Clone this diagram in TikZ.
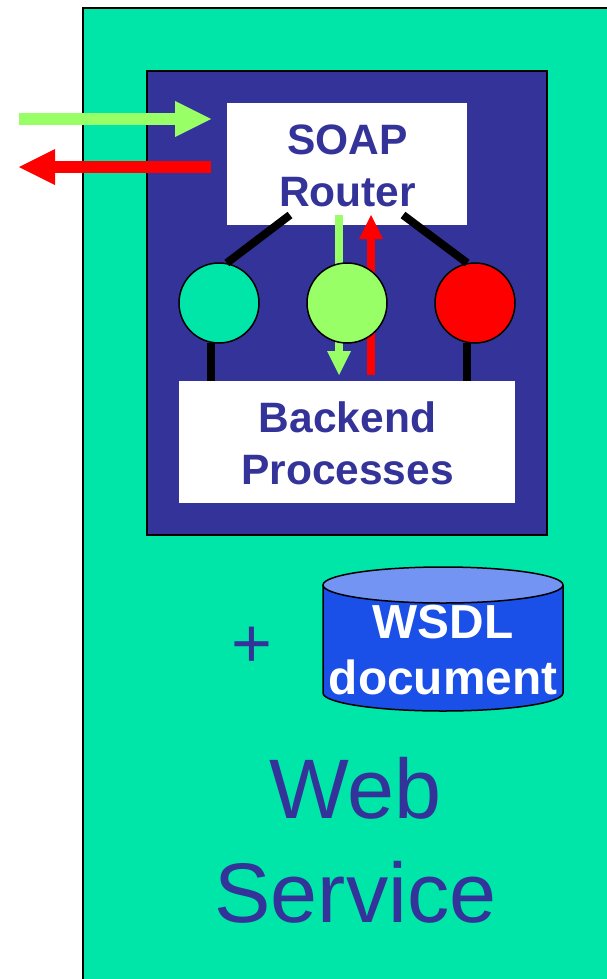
\documentclass[tikz,border=0pt]{standalone}
\usepackage{fontspec}
\setmainfont{Liberation Sans}
\usetikzlibrary{arrows.meta}
\definecolor{wsgreen}{HTML}{00E6A8}
\definecolor{wsnavy}{HTML}{333399}
\definecolor{wslime}{HTML}{99FF66}
\definecolor{wsblue}{HTML}{1A4FE8}
\definecolor{wssky}{HTML}{7394F2}
\tikzset{
	whitebox/.style={fill=white,text=wsnavy,inner sep=0pt,align=center,font=\fontsize{42.5}{52}\selectfont\bfseries},
	port/.style={circle,draw=black,line width=1.5pt,minimum size=80pt,inner sep=0pt},
	link/.style={line width=8pt,black},
	bigarrow/.style={line width=12pt,-{Triangle[length=36pt,width=36pt,line width=0pt]}},
	smallarrow/.style={line width=8pt,-{Triangle[length=24pt,width=24pt,line width=0pt]}},
}
\begin{document}
\begin{tikzpicture}[x=1pt,y=-1pt]
		\useasboundingbox (0,0) rectangle (607,979);
		\fill[wsgreen] (83,8) rectangle (607,979);
		\draw[line width=2pt] (83,979) -- (83,8) -- (607,8);
		\draw[line width=1.5pt,fill=wsnavy] (147,71) rectangle (547,535);
		% outside arrows
		\coordinate (inA) at (19,119);
		\coordinate (inB) at (211,119);
		\coordinate (outA) at (211,167);
		\coordinate (outB) at (19,167);
		\draw[bigarrow,wslime] (inA) -- (inB);
		\draw[bigarrow,red] (outA) -- (outB);
		\node[whitebox,minimum width=240pt,minimum height=122pt] (router) at (347,164) {};
		\node[whitebox,minimum width=336pt,minimum height=122pt] (backend) at (347,442) {};
		\node[whitebox,fill=none] (routertext) at (347.5,165.5) {SOAP\\Router};
		\node[whitebox,fill=none] (backendtext) at (347.5,443.5) {Backend\\Processes};
		% inner arrows
		\coordinate (downA) at (339,215);
		\coordinate (downB) at (339,375);
		\coordinate (upA) at (371,375);
		\coordinate (upB) at (371,215);
		\draw[smallarrow,wslime] (downA) -- (downB);
		\draw[smallarrow,red] (upA) -- (upB);
		\coordinate (routerL) at (290,215);
		\coordinate (routerR) at (403,215);
		\node[port,fill=wsgreen] (portA) at (219,303) {};
		\node[port,fill=wslime] (portB) at (347,303) {};
		\node[port,fill=red] (portC) at (475,303) {};
		\draw[link] (routerL) -- (portA.79);
		\draw[link] (routerR) -- (portC.101);
		\draw[link] (portA.259) -- (portA.259 |- backend.north);
		\draw[link] (portC.259) -- (portC.259 |- backend.north);
		\node[text=wsnavy,font=\fontsize{70}{70}\selectfont] (plus) at (252,647) {+};
		% WSDL cylinder
		\draw[line width=1.5pt,fill=wsblue] (323,585) -- (323,693) arc (180:360:120pt and 18pt) -- (563,585);
		\draw[line width=1.5pt,fill=wssky] (443,585) ellipse (120pt and 18pt);
		\node[text=white,align=center,font=\fontsize{47.8}{56}\selectfont\bfseries] (wsdl) at (443,650.5) {WSDL\\document};
		\node[text=wsnavy,align=center,font=\fontsize{84.5}{104}\selectfont] (title) at (355.5,840) {Web\\Service};
	\end{tikzpicture}
\end{document}
